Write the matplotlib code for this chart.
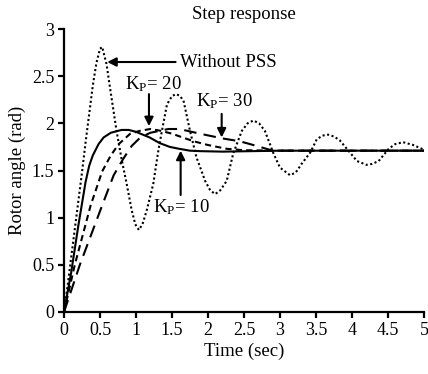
import matplotlib
matplotlib.use("Agg")
import matplotlib.pyplot as plt

plt.rcParams['font.family'] = ['Liberation Serif', 'DejaVu Serif']
plt.rcParams['mathtext.fontset'] = 'custom'
plt.rcParams['mathtext.rm'] = 'Liberation Serif'
plt.rcParams['mathtext.it'] = 'Liberation Serif:italic'

# Without PSS (dotted)
t_nopss = [0, 0.05, 0.10, 0.15, 0.20, 0.25, 0.30, 0.35, 0.40, 0.45, 0.50, 0.53,
           0.59, 0.66, 0.73, 0.80, 0.87, 0.94, 0.99, 1.04, 1.09, 1.15, 1.24, 1.31,
           1.36, 1.43, 1.50, 1.56, 1.61, 1.66, 1.75, 1.84, 1.96, 2.03, 2.10, 2.17,
           2.26, 2.35, 2.47, 2.55, 2.63, 2.71, 2.79, 2.91, 3.00, 3.14, 3.22, 3.30,
           3.42, 3.51, 3.59, 3.67, 3.75, 3.83, 3.95, 4.07, 4.20, 4.28, 4.37, 4.51,
           4.60, 4.71, 4.85, 4.97, 5.0]
v_nopss = [0, 0.28, 0.58, 0.88, 1.18, 1.48, 1.80, 2.10, 2.40, 2.64, 2.79, 2.81,
           2.63, 2.27, 1.92, 1.62, 1.36, 1.08, 0.93, 0.87, 0.93, 1.08, 1.36, 1.71,
           1.92, 2.20, 2.29, 2.31, 2.29, 2.24, 1.92, 1.64, 1.39, 1.29, 1.25, 1.29,
           1.39, 1.68, 1.92, 2.00, 2.03, 2.00, 1.92, 1.68, 1.53, 1.45, 1.48, 1.57,
           1.69, 1.83, 1.87, 1.88, 1.86, 1.82, 1.71, 1.60, 1.56, 1.57, 1.60, 1.73,
           1.78, 1.80, 1.77, 1.73, 1.72]

# Kp = 10 (solid)
t_kp10 = [0, 0.10, 0.20, 0.25, 0.30, 0.35, 0.40, 0.48, 0.55, 0.65, 0.80, 0.90,
          1.00, 1.19, 1.33, 1.47, 1.60, 1.75, 1.90, 2.20, 3.00, 5.0]
v_kp10 = [0, 0.42, 0.92, 1.15, 1.38, 1.55, 1.66, 1.78, 1.85, 1.90, 1.93, 1.93,
          1.91, 1.85, 1.79, 1.75, 1.73, 1.71, 1.705, 1.70, 1.71, 1.71]

# Kp = 20 (short dash)
t_kp20 = [0, 0.15, 0.37, 0.53, 0.65, 0.76, 0.92, 1.05, 1.20, 1.35, 1.50, 1.80,
          2.00, 2.26, 2.50, 3.00, 5.0]
v_kp20 = [0, 0.50, 1.13, 1.49, 1.66, 1.78, 1.89, 1.92, 1.94, 1.92, 1.89, 1.81,
          1.77, 1.73, 1.715, 1.71, 1.71]

# Kp = 30 (long dash)
t_kp30 = [0, 0.22, 0.53, 0.69, 0.82, 0.94, 1.06, 1.20, 1.45, 1.60, 1.89, 2.20,
          2.44, 2.63, 2.72, 2.90, 3.20, 5.0]
v_kp30 = [0, 0.50, 1.13, 1.45, 1.62, 1.76, 1.85, 1.90, 1.94, 1.94, 1.89, 1.84,
          1.81, 1.77, 1.75, 1.71, 1.71, 1.71]

xticks = [0, 0.5, 1, 1.5, 2, 2.5, 3, 3.5, 4, 4.5, 5]
xticklabels = ['0', '0.5', '1', '1.5', '2', '2.5', '3', '3.5', '4', '4.5', '5']
yticks = [0, 0.5, 1, 1.5, 2, 2.5, 3]
yticklabels = ['0', '0.5', '1', '1.5', '2', '2.5', '3']

fig = plt.figure(figsize=(4.28, 3.74), dpi=100)
ax = fig.add_axes([64/428, 1-312/374, 360/428, 283/374])

lw = 1.5
ax.plot(t_nopss, v_nopss, color='black', lw=lw, linestyle=(0, (1, 1.2)))
ax.plot(t_kp10, v_kp10, color='black', lw=lw, linestyle='-')
ax.plot(t_kp20, v_kp20, color='black', lw=lw, linestyle=(0, (3, 2)))
ax.plot(t_kp30, v_kp30, color='black', lw=lw, linestyle=(0, (6, 3.5)))

ax.set_xlim(0, 5)
ax.set_ylim(0, 3)
ax.set_xticks(xticks)
ax.set_xticklabels(xticklabels)
ax.set_yticks(yticks)
ax.set_yticklabels(yticklabels)
for s in ['top', 'right']:
    ax.spines[s].set_visible(False)
for s in ['left', 'bottom']:
    ax.spines[s].set_linewidth(1.6)
ax.tick_params(direction='out', length=4, width=1.6, labelsize=13, pad=3)

fs = 13.5
ax.set_title('Step response', fontsize=fs, pad=7)
ax.set_xlabel('Time (sec)', fontsize=fs, labelpad=3)
ax.set_ylabel('Rotor angle (rad)', fontsize=fs, labelpad=4)

ap = dict(arrowstyle='-|>', color='black', lw=1.5, mutation_scale=13, shrinkA=0, shrinkB=0)
ax.annotate('', xy=(0.60, 2.65), xytext=(1.55, 2.65), arrowprops=ap)
ax.text(1.61, 2.65, 'Without PSS', fontsize=fs, va='center', ha='left')

ax.annotate('', xy=(1.18, 1.97), xytext=(1.18, 2.31), arrowprops=ap)
ax.text(0.85, 2.42, r'K$_{\mathrm{P}}$= 20', fontsize=fs, va='center', ha='left')

ax.annotate('', xy=(2.19, 1.85), xytext=(2.19, 2.10), arrowprops=ap)
ax.text(1.84, 2.23, r'K$_{\mathrm{P}}$= 30', fontsize=fs, va='center', ha='left')

ax.annotate('', xy=(1.62, 1.71), xytext=(1.62, 1.24), arrowprops=ap)
ax.text(1.24, 1.11, r'K$_{\mathrm{P}}$= 10', fontsize=fs, va='center', ha='left')

fig.savefig('out.png', dpi=100)
